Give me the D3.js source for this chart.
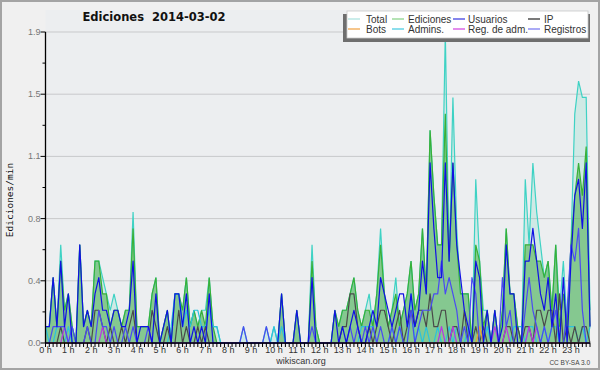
<!DOCTYPE html>
<html lang="es">
<head>
<meta charset="utf-8" />
<script src="https://cdn.jsdelivr.net/npm/d3@7"></script>
<style>
  html, body { margin: 0; padding: 0; background: #f0f0f0; }
  svg { display: block; }
</style>
</head>
<body>
<svg id="canvas" width="600" height="370"></svg>
<script>
// edits per minute, one value per 10 minutes (144 slots), 2 hours per line
var total = [
  0.1,0.1,0.4,0.1,0.6,0.2, 0.3,0.1,0,0.6,0.1,0.2,
  0.1,0.5,0.5,0.4,0.3,0.2, 0.3,0.2,0.1,0.2,0.2,0.8,
  0.1,0.1,0.1,0.1,0.3,0.4, 0,0.1,0.2,0,0.3,0.3,
  0.2,0.4,0.1,0.2,0.1,0.2, 0.2,0.4,0.1,0.1,0,0,
  0,0,0,0,0.1,0, 0,0,0,0,0.1,0,
  0.1,0,0.3,0,0,0, 0.2,0,0,0,0.6,0.1,
  0,0,0,0,0.2,0.1, 0.2,0.2,0.3,0.4,0.2,0.1,
  0.2,0.3,0.1,0.3,0.7,0.3, 0.1,0.2,0.4,0.1,0.2,0.3,
  0.5,0.2,0.3,0.7,0.3,1.3, 0.9,0.6,0.6,1.9,0.5,1.5,
  0.7,0.3,0.3,0.3,0,1.0, 0.5,0.2,0.2,0,0.2,0,
  0.2,0.7,0.3,0.3,0.1,0, 1.0,0.6,1.1,0.8,0.6,0.4,
  0.5,0.2,0.6,0.2,0.5,0.1, 0.6,1.4,1.6,1.5,1.5,0.2
];
var ediciones = [
  0.1,0.1,0.4,0.1,0.5,0.2, 0.3,0.1,0,0.6,0.1,0.2,
  0.1,0.5,0.5,0.3,0.3,0.1, 0.2,0.2,0.1,0.2,0.2,0.7,
  0.1,0.1,0.1,0.1,0.3,0.4, 0,0.1,0.2,0,0.3,0.3,
  0.2,0.4,0.1,0.2,0.1,0.2, 0.1,0.4,0.1,0,0,0,
  0,0,0,0,0,0, 0,0,0,0,0,0,
  0,0,0.3,0,0,0, 0.2,0,0,0,0.5,0.1,
  0,0,0,0,0.2,0.1, 0.2,0.2,0.3,0.4,0.2,0.1,
  0.2,0.2,0.1,0.3,0.6,0.3, 0.1,0.2,0.3,0.1,0.2,0.3,
  0.5,0.2,0.3,0.7,0.3,1.3, 0.9,0.6,0.6,1.4,0.5,1.1,
  0.6,0.3,0.3,0.3,0,0.6, 0.5,0.1,0.2,0,0.2,0,
  0.2,0.7,0.3,0.3,0.1,0, 0.6,0.6,0.6,0.5,0.5,0.4,
  0.5,0.2,0.6,0.1,0.3,0.1, 0.6,0.9,1.1,0.9,1.2,0.1
];
var usuarios = [
  0.1,0.1,0.4,0.1,0.5,0.1, 0.3,0,0,0.6,0.1,0.2,
  0.1,0.3,0.4,0.2,0.2,0.1, 0.2,0.2,0.1,0.1,0.2,0.5,
  0,0.1,0.1,0.1,0,0.3, 0,0.1,0.2,0,0.3,0.3,
  0.1,0.3,0,0.1,0,0.1, 0,0.3,0,0,0,0,
  0,0,0,0,0,0, 0,0,0,0,0,0,
  0,0,0.3,0,0,0, 0.2,0,0,0,0.4,0,
  0,0,0,0,0.2,0, 0.1,0,0.1,0.2,0.1,0,
  0,0.1,0.2,0.1,0.4,0.3, 0.2,0.1,0.2,0.3,0.3,0.1,
  0.3,0.1,0.2,0.5,0.3,1.1, 0.7,0.4,0.4,1.1,0.5,1.1,
  0.6,0.4,0.2,0.1,0,0.5, 0.4,0,0.2,0,0.2,0,
  0.1,0.6,0.3,0.3,0,0, 0.5,0.5,0.7,0.5,0.3,0.2,
  0.4,0.1,0.3,0,0.4,0, 0.5,0.9,1.0,0.7,1.1,0.1
];
var ip = [
  0,0,0,0,0.1,0, 0,0,0,0,0,0.1,
  0,0.2,0.2,0.1,0,0.1, 0,0,0.1,0,0.1,0.2,
  0,0,0,0,0.2,0.1, 0,0,0.1,0,0,0.2,
  0,0.1,0,0,0.1,0, 0.1,0,0,0,0,0,
  0,0,0,0,0,0, 0,0,0,0,0,0,
  0,0,0,0,0,0, 0,0,0,0,0,0,
  0,0,0,0,0,0, 0.1,0.1,0.3,0.3,0.1,0,
  0,0.1,0,0.1,0.2,0.2, 0.1,0,0.1,0.2,0,0.1,
  0.2,0.1,0.2,0.2,0.1,0.3, 0.1,0.1,0.2,0.2,0,0.1,
  0.1,0,0.2,0,0,0.1, 0,0.1,0,0,0,0,
  0,0.1,0.1,0,0.1,0, 0.1,0.1,0,0.2,0.2,0.1,
  0.2,0.2,0,0.3,0,0.1, 0,0.1,0,0.1,0.1,0
];
var bots = [
  0,0,0,0,0,0, 0,0,0,0,0,0,
  0,0,0,0,0,0, 0,0,0,0,0,0,
  0,0,0,0,0,0, 0,0,0,0,0,0,
  0,0,0,0,0,0, 0,0,0,0,0,0,
  0,0,0,0,0,0, 0,0,0,0,0,0,
  0,0,0,0,0,0, 0,0,0,0,0,0,
  0,0,0,0,0,0, 0,0,0,0,0,0,
  0,0,0,0,0,0, 0,0,0,0,0,0,
  0,0,0,0,0,0, 0,0,0,0,0,0,
  0,0,0,0,0,0, 0.1,0,0,0,0,0,
  0,0,0,0,0,0, 0,0,0,0,0,0,
  0,0,0,0,0,0, 0,0,0,0,0,0
];
var admins = [
  0.1,0,0,0.1,0.1,0, 0.1,0,0,0,0,0,
  0,0,0,0,0,0, 0,0,0,0,0,0,
  0,0,0,0,0,0, 0,0,0,0.1,0.3,0.3,
  0.1,0.2,0.1,0.2,0.2,0.1, 0.1,0.2,0.1,0.1,0,0,
  0,0,0,0,0,0, 0,0,0,0,0,0,
  0.1,0,0.1,0,0,0, 0,0,0,0,0,0,
  0,0,0,0,0,0, 0,0,0,0,0,0.1,
  0.1,0.1,0.1,0,0,0, 0,0.1,0,0.1,0,0,
  0.3,0,0.1,0,0.1,0, 0,0.1,0,0,0.1,0,
  0.1,0,0,0.1,0,0, 0,0,0.1,0,0,0,
  0,0,0,0.1,0.1,0.1, 0,0.1,0.1,0,0,0.1,
  0,0.1,0.1,0,0,0.1, 0.1,0.1,0,0.1,0,0.1
];
var regAdm = [
  0,0,0,0,0,0.1, 0,0,0,0,0,0,
  0,0,0,0.1,0,0, 0,0,0,0,0,0,
  0,0,0,0,0,0, 0,0,0,0,0,0,
  0,0,0,0,0,0, 0,0,0,0,0,0,
  0,0,0,0,0,0, 0,0,0,0,0,0,
  0,0,0,0,0,0, 0,0,0,0,0,0,
  0,0,0,0,0,0, 0,0,0,0,0,0,
  0,0,0,0,0,0, 0,0,0,0,0,0,
  0,0,0,0,0,0, 0,0,0.1,0,0,0.1,
  0,0,0,0,0,0, 0,0,0,0,0.1,0,
  0,0.1,0,0,0,0, 0,0.1,0,0.1,0,0,
  0,0,0,0,0,0, 0,0,0,0,0,0
];
var registros = [
  0,0,0.1,0.1,0.1,0.1, 0,0.1,0,0,0,0.1,
  0,0,0.2,0.1,0.1,0, 0.1,0,0,0.1,0,0.1,
  0,0,0,0.1,0,0, 0,0,0,0,0,0,
  0,0,0,0,0,0, 0,0,0,0,0,0,
  0,0,0,0,0.1,0, 0,0,0,0,0.1,0,
  0,0,0,0,0,0, 0,0,0,0,0.1,0,
  0,0,0,0,0,0, 0,0,0.1,0,0.1,0,
  0.1,0,0.1,0,0.1,0, 0,0.1,0,0.1,0,0,
  0.2,0,0.1,0.2,0.2,0.2, 0.3,0.3,0.5,0.3,0.4,0.3,
  0.2,0,0.1,0,0.4,0.3, 0,0,0,0,0,0,
  0.4,0.1,0.2,0,0,0, 0.2,0.4,0.2,0.1,0,0.1,
  0,0.1,0.2,0,0,0.2, 0.6,0.5,0.7,0.2,0,0
];

var hourLabels = ["0 h","1 h","2 h","3 h","4 h","5 h","6 h","7 h","8 h","9 h","10 h","11 h",
                  "12 h","13 h","14 h","15 h","16 h","17 h","18 h","19 h","20 h","21 h","22 h","23 h"];
var yTickLabels = ["0.0","0.4","0.8","1.1","1.5","1.9"];
var yMax = 1.9;

var legendItems = [
  ["Total", "#a8e2de"], ["Ediciones", "#84d084"], ["Usuarios", "#3434e0"], ["IP", "#222222"],
  ["Bots", "#f0a040"], ["Admins.", "#40c8e0"], ["Reg. de adm.", "#d040e0"], ["Registros", "#7474f0"]
];

var svg = d3.select("#canvas");
var W = 600, H = 370;
var plotL = 45.5, plotR = 590, plotT = 32, plotB = 343;

var x = d3.scaleLinear().domain([0, total.length - 1]).range([plotL, plotR]);
var y = d3.scaleLinear().domain([0, yMax]).range([plotB, plotT]);

svg.append("rect").attr("x", 1).attr("y", 1).attr("width", W - 2).attr("height", H - 2)
  .attr("fill", "#f0f0f0").attr("stroke", "#a4a4a4").attr("stroke-width", 2);
svg.append("rect").attr("x", plotL).attr("y", 10).attr("width", plotR - plotL).attr("height", plotB - 10)
  .attr("fill", "#eceef0");

// grid
var majorVals = yTickLabels.map(function(d, i){ return yMax * i / (yTickLabels.length - 1); });
svg.append("g").selectAll("line").data(majorVals.slice(1)).enter().append("line")
  .attr("x1", plotL).attr("x2", plotR)
  .attr("y1", function(d){ return y(d); }).attr("y2", function(d){ return y(d); })
  .attr("stroke", "#c8c9cb").attr("stroke-width", 1);

// areas
var area = d3.area().x(function(d, i){ return x(i); }).y0(plotB).y1(function(d){ return y(d); });
var line = d3.line().x(function(d, i){ return x(i); }).y(function(d){ return y(d); });

svg.append("path").attr("d", area(total)).attr("fill", "#40d0b0").attr("fill-opacity", 0.17);
svg.append("path").attr("d", area(ediciones)).attr("fill", "#3ca83c").attr("fill-opacity", 0.5);
svg.append("path").attr("d", line(total)).attr("fill", "none").attr("stroke", "#3ed2c4").attr("stroke-width", 1.2);
svg.append("path").attr("d", line(ediciones)).attr("fill", "none").attr("stroke", "#38b038").attr("stroke-width", 1.2);

var lineSeries = [
  [admins, "#2cc2dc"], [ip, "#4a4a4a"], [bots, "#f0a030"], [regAdm, "#b838e0"],
  [registros, "#4a4af2"], [usuarios, "#1010e4"]
];
lineSeries.forEach(function(s){
  svg.append("path").attr("d", line(s[0])).attr("fill", "none")
    .attr("stroke", s[1]).attr("stroke-width", 1.2).attr("stroke-linejoin", "round");
});

// axes
var yAxis = svg.append("g");
yAxis.append("line").attr("x1", plotL).attr("x2", plotL).attr("y1", plotT).attr("y2", plotB)
  .attr("stroke", "#000").attr("stroke-width", 1.3);
majorVals.forEach(function(v, i){
  yAxis.append("line").attr("x1", plotL - 5).attr("x2", plotL).attr("y1", y(v)).attr("y2", y(v))
    .attr("stroke", "#000");
  yAxis.append("text").attr("x", plotL - 5).attr("y", y(v) + 3).attr("text-anchor", "end")
    .attr("font-family", "Liberation Sans, Arial, sans-serif").attr("font-size", 9).attr("fill", "#777")
    .text(yTickLabels[i]);
  if (i > 0) {
    var m = (majorVals[i] + majorVals[i - 1]) / 2;
    yAxis.append("line").attr("x1", plotL - 3).attr("x2", plotL).attr("y1", y(m)).attr("y2", y(m))
      .attr("stroke", "#000");
  }
});

var xAxis = svg.append("g");
xAxis.append("line").attr("x1", plotL).attr("x2", plotR).attr("y1", plotB).attr("y2", plotB)
  .attr("stroke", "#000").attr("stroke-width", 1.5);
xAxis.selectAll("line.t").data(d3.range(total.length)).enter().append("line")
  .attr("class", "t")
  .attr("x1", function(d){ return x(d); }).attr("x2", function(d){ return x(d); })
  .attr("y1", plotB).attr("y2", plotB + 4)
  .attr("stroke", "#000").attr("stroke-width", 1);
xAxis.selectAll("text").data(hourLabels).enter().append("text")
  .attr("x", function(d, i){ return x(i * 6); }).attr("y", plotB + 10)
  .attr("text-anchor", "middle")
  .attr("font-family", "Liberation Sans, Arial, sans-serif").attr("font-size", 9).attr("fill", "#333")
  .text(function(d){ return d; });

// texts
svg.append("text").attr("x", 154).attr("y", 21).attr("text-anchor", "middle")
  .attr("font-family", "DejaVu Sans, sans-serif").attr("font-weight", "bold").attr("font-size", 11.5)
  .attr("fill", "#111").text("Ediciones  2014-03-02").attr("xml:space", "preserve")
  .style("white-space", "pre");
svg.append("text").attr("transform", "translate(13,200) rotate(-90)").attr("text-anchor", "middle")
  .attr("font-family", "DejaVu Sans Mono, monospace").attr("font-size", 9.5).attr("fill", "#111")
  .text("Ediciones/min");
svg.append("text").attr("x", 301).attr("y", 364).attr("text-anchor", "middle")
  .attr("font-family", "Liberation Sans, Arial, sans-serif").attr("font-size", 9).attr("fill", "#333")
  .text("wikiscan.org");
svg.append("text").attr("x", 590).attr("y", 365).attr("text-anchor", "end")
  .attr("font-family", "Liberation Sans, Arial, sans-serif").attr("font-size", 6.5).attr("fill", "#444")
  .text("CC BY-SA 3.0");

// legend
var lg = svg.append("g");
lg.append("rect").attr("x", 343).attr("y", 14).attr("width", 247).attr("height", 28).attr("fill", "#6e6e6e");
lg.append("rect").attr("x", 347).attr("y", 11).attr("width", 241).attr("height", 27)
  .attr("fill", "#fff").attr("stroke", "#c8c8c8").attr("stroke-width", 0.8);
var colLine = [348, 392, 453, 528];
var colText = [366, 408, 468, 544];
legendItems.forEach(function(d, i){
  var c = i % 4, cy = i < 4 ? 19 : 29;
  lg.append("line").attr("x1", colLine[c]).attr("x2", colLine[c] + 12).attr("y1", cy).attr("y2", cy)
    .attr("stroke", d[1]).attr("stroke-width", 1.2);
  lg.append("text").attr("x", colText[c]).attr("y", cy + 3.5)
    .attr("font-family", "Liberation Sans, Arial, sans-serif").attr("font-size", 10).attr("fill", "#333")
    .text(d[0]);
});
</script>
</body>
</html>
